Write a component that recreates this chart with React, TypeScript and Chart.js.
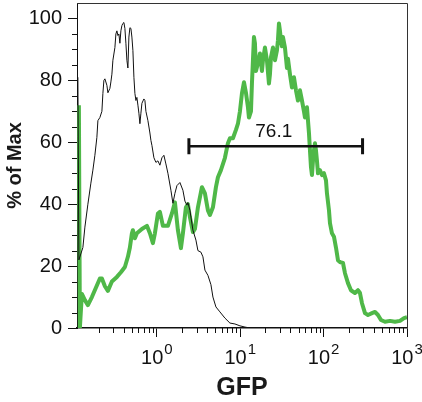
import React, { useEffect, useRef } from 'react';
import { Chart, registerables } from 'chart.js';

Chart.register(...registerables);

const FONT = '"Liberation Sans", Arial, Helvetica, sans-serif';

// Unstained control histogram (black thin line): GFP intensity / % of Max
const controlX = [
  0.1127, 0.1159, 0.1294, 0.1368, 0.1486, 0.1614, 0.1706, 0.1803, 0.1905, 0.1959,
  0.207, 0.2188, 0.2249, 0.2312, 0.2377, 0.2512, 0.2582, 0.2729, 0.2805, 0.2884,
  0.2965, 0.3133, 0.3221, 0.3311, 0.3404, 0.3499, 0.3597, 0.3698, 0.3802, 0.3908,
  0.4018, 0.413, 0.4246, 0.4365, 0.4487, 0.4613, 0.4742, 0.4875, 0.5012, 0.5152,
  0.5297, 0.5445, 0.5598, 0.5754, 0.5916, 0.6081, 0.6252, 0.6427, 0.6607, 0.6982,
  0.7178, 0.7379, 0.7798, 0.8241, 0.8472, 0.871, 0.9204, 0.9727, 1.028, 1.086,
  1.148, 1.213, 1.282, 1.355, 1.472, 1.556, 1.644, 1.738, 1.888, 2.051,
  2.168, 2.291, 2.355, 2.489, 2.704, 2.938, 3.105, 3.373, 3.565, 3.767,
  4.093, 4.446, 4.699, 5.105, 5.702, 6.546, 7.516, 8.63, 9.908, 11.38, 13.06,
];
const controlY = [
  81, 22, 26, 32.6, 40, 46.8, 51, 55.8, 61.6, 67,
  68, 70, 75.8, 80, 80.5, 78.4, 76, 77.4, 79.5, 82,
  86.5, 90.6, 95, 96, 94.5, 95, 92, 96, 97.7, 98.4,
  98.7, 96.8, 92, 86.5, 84, 94, 97, 96.8, 94, 89.7,
  81, 75.8, 73.5, 74.5, 72, 69.4, 66, 69.4, 72.6, 74,
  73.5, 70, 67, 63, 60.6, 59, 55, 53.5, 54, 52.6,
  55, 55.8, 53, 50, 44.5, 40.3, 43.5, 46, 47, 44.5,
  41, 39.7, 40.5, 38, 31.6, 28.4, 25, 24.5, 23, 18.7,
  17, 14, 10, 6.8, 5.2, 3.2, 1.6, 1.3, 0.7, 0.3, 0,
];

// GFP sample histogram (green thick line)
const gfpX = [
  0.1159, 0.1191, 0.1259, 0.1368, 0.1486, 0.166, 0.1854, 0.207, 0.2188, 0.2377,
  0.2582, 0.2884, 0.3311, 0.3698, 0.413, 0.4487, 0.4742, 0.5012, 0.5152, 0.5445,
  0.5754, 0.6607, 0.7586, 0.8241, 0.8954, 0.9462, 1.028, 1.086, 1.18, 1.355,
  1.432, 1.514, 1.644, 1.786, 1.941, 2.051, 2.228, 2.355, 2.489, 2.704,
  2.858, 3.105, 3.467, 3.767, 4.093, 4.325, 4.699, 5.105, 5.395, 5.861,
  6.546, 7.112, 7.516, 8.166, 8.872, 9.376, 9.908, 10.47, 11.07, 11.7,
  12.36, 12.71, 13.43, 13.8, 14.19, 14.59, 15.0, 15.42, 16.29, 17.22,
  18.2, 18.71, 19.77, 20.89, 22.08, 22.7, 23.33, 24.66, 26.06, 27.54,
  28.31, 29.11, 29.92, 30.76, 31.62, 32.51, 34.36, 36.31, 37.33, 39.45,
  41.69, 44.06, 46.56, 49.2, 52.0, 54.95, 58.07, 59.7, 63.1, 66.68,
  68.55, 70.47, 72.44, 74.47, 76.56, 78.7, 80.91, 83.18, 85.51, 90.36,
  95.5, 100.9, 106.7, 109.6, 115.9, 119.1, 125.9, 133.0, 140.6, 148.6,
  157.0, 170.6, 180.3, 195.9, 212.8, 237.7, 258.2, 272.9, 288.4, 313.3,
  340.4, 380.2, 413.0, 448.7, 487.5, 544.5, 625.2, 717.8, 824.1, 920.4,
  1000,
];
const gfpY = [
  72, 0, 11, 9, 7.4, 10, 13, 16, 16, 13.5,
  12, 15, 16.5, 18, 19.7, 23, 26, 30.6, 31.6, 29,
  30.6, 32, 33, 30.6, 27.4, 30.6, 37, 37.5, 33, 33,
  35, 37, 40.6, 31.6, 25.8, 30.6, 39, 40, 35.8, 31,
  32, 39, 45.5, 43.5, 38, 36.5, 39, 45.5, 48.7, 51,
  55, 59.7, 61.3, 61.3, 64, 66, 70, 75.8, 79.4, 76,
  71.3, 68, 70, 79, 86.5, 94, 92, 83, 85.5, 88.7,
  83, 86.5, 90.6, 86.5, 79, 82, 87.4, 90.6, 86.5, 89.7,
  93, 98.4, 96, 93, 91, 94, 90.6, 84, 87, 82,
  77.7, 81, 76.8, 73.5, 76.8, 73.5, 70, 68, 71.3, 63,
  57.4, 52, 49.4, 54, 57.4, 59.7, 57.4, 54, 50, 51,
  49.4, 50, 47.7, 43.5, 38, 33.9, 30.6, 29.5, 26, 21.9,
  21.3, 21, 17.7, 14.5, 12.2, 11.3, 12.2, 11.3, 8, 4.8,
  4.2, 4.8, 5.2, 4.2, 2.6, 2, 2.3, 2, 2.3, 3.2,
  3.5,
];

// Axes
const yMajorTicks = [0, 20, 40, 60, 80, 100];
const yMinorTicks = [5, 10, 15, 25, 30, 35, 45, 50, 55, 65, 70, 75, 85, 90, 95];
const xMajorTicks = [1, 10, 100, 1000];
const xMajorExponents = ['0', '1', '2', '3'];
const xMinorTicks = [
  0.2, 0.3, 0.4, 0.5, 0.6, 0.7, 0.8, 0.9,
  2, 3, 4, 5, 6, 7, 8, 9,
  20, 30, 40, 50, 60, 70, 80, 90,
  200, 300, 400, 500, 600, 700, 800, 900,
];

// Gate annotation
const gateStart = 2.42;
const gateEnd = 293;
const gateLevel = 58.7;
const gateLabel = '76.1';

const INK = '#111111';
const GREEN = '#4fb848';

const decorPlugin = {
  id: 'facsDecor',
  afterDatasetsDraw(chart: any) {
    const { ctx, scales } = chart;
    const x = scales.x;
    const y = scales.y;
    const x1 = x.getPixelForValue(gateStart);
    const x2 = x.getPixelForValue(gateEnd);
    const yy = y.getPixelForValue(gateLevel);
    ctx.save();
    ctx.strokeStyle = INK;
    ctx.lineWidth = 2.5;
    ctx.beginPath();
    ctx.moveTo(x1, yy);
    ctx.lineTo(x2, yy);
    ctx.stroke();
    ctx.lineWidth = 3;
    ctx.beginPath();
    ctx.moveTo(x1, yy - 8);
    ctx.lineTo(x1, yy + 8);
    ctx.moveTo(x2, yy - 8);
    ctx.lineTo(x2, yy + 8);
    ctx.stroke();
    ctx.fillStyle = INK;
    ctx.font = `19px ${FONT}`;
    ctx.textAlign = 'center';
    ctx.textBaseline = 'alphabetic';
    ctx.fillText(gateLabel, (x1 + x2) / 2 - 2, yy - 9);
    ctx.restore();
  },
  afterDraw(chart: any) {
    const { ctx, scales, chartArea } = chart;
    const x = scales.x;
    const y = scales.y;
    ctx.save();
    // frame top & right
    ctx.strokeStyle = '#333333';
    ctx.lineWidth = 1;
    ctx.beginPath();
    ctx.moveTo(chartArea.left, chartArea.top + 0.5);
    ctx.lineTo(chartArea.right + 0.5, chartArea.top + 0.5);
    ctx.lineTo(chartArea.right + 0.5, chartArea.bottom);
    ctx.stroke();
    // minor ticks
    ctx.strokeStyle = INK;
    ctx.beginPath();
    xMinorTicks.forEach((v) => {
      const px = Math.round(x.getPixelForValue(v)) + 0.5;
      ctx.moveTo(px, chartArea.bottom);
      ctx.lineTo(px, chartArea.bottom + 5);
    });
    yMinorTicks.forEach((v) => {
      const py = Math.round(y.getPixelForValue(v)) + 0.5;
      ctx.moveTo(chartArea.left, py);
      ctx.lineTo(chartArea.left - 5, py);
    });
    ctx.stroke();
    // x labels 10^n
    ctx.fillStyle = INK;
    ctx.textAlign = 'left';
    ctx.textBaseline = 'alphabetic';
    xMajorTicks.forEach((v, i) => {
      const px = x.getPixelForValue(v);
      const exp = xMajorExponents[i];
      ctx.font = `20px ${FONT}`;
      const bw = ctx.measureText('10').width;
      ctx.font = `15px ${FONT}`;
      const ew = ctx.measureText(exp).width;
      const start = px - (bw + 1 + ew) / 2;
      ctx.font = `20px ${FONT}`;
      ctx.fillText('10', start, chartArea.bottom + 36);
      ctx.font = `15px ${FONT}`;
      ctx.fillText(exp, start + bw + 1, chartArea.bottom + 26);
    });
    ctx.restore();
  },
};

export default function App() {
  const ref = useRef<HTMLCanvasElement | null>(null);

  useEffect(() => {
    if (!ref.current) return;
    const chart = new Chart(ref.current, {
      type: 'line',
      data: {
        datasets: [
          {
            label: 'Control',
            data: controlX.map((v, i) => ({ x: v, y: controlY[i] })),
            borderColor: INK,
            borderWidth: 1,
            pointRadius: 0,
            tension: 0,
            fill: false,
          },
          {
            label: 'GFP',
            data: gfpX.map((v, i) => ({ x: v, y: gfpY[i] })),
            borderColor: GREEN,
            borderWidth: 4,
            borderJoinStyle: 'round',
            pointRadius: 0,
            tension: 0,
            fill: false,
          },
        ],
      },
      options: {
        animation: false,
        responsive: false,
        maintainAspectRatio: false,
        layout: { padding: { top: 3, right: 15, left: 0, bottom: 0 } },
        plugins: {
          legend: { display: false },
          tooltip: { enabled: false },
        },
        scales: {
          x: {
            type: 'logarithmic',
            min: 0.11,
            max: 1000,
            afterBuildTicks: (s: any) => {
              s.ticks = xMajorTicks.map((v) => ({ value: v }));
            },
            afterFit: (s: any) => {
              s.height = 74;
              s.paddingLeft = 0;
              s.paddingRight = 0;
            },
            ticks: { display: false },
            grid: {
              drawOnChartArea: false,
              drawTicks: true,
              tickLength: 9,
              tickColor: INK,
              tickWidth: 1,
            },
            border: { display: true, color: INK, width: 1.5 },
            title: {
              display: true,
              text: 'GFP',
              color: '#1a1a1a',
              font: { family: FONT, size: 25, weight: 'bold', lineHeight: 1.1 },
              padding: { top: 0, bottom: 0 },
            },
          },
          y: {
            type: 'linear',
            min: 0,
            max: 105,
            afterBuildTicks: (s: any) => {
              s.ticks = yMajorTicks.map((v) => ({ value: v }));
            },
            afterFit: (s: any) => {
              s.width = 77;
              s.paddingTop = 0;
              s.paddingBottom = 0;
            },
            ticks: {
              color: INK,
              font: { family: FONT, size: 20 },
              padding: 6,
            },
            grid: {
              drawOnChartArea: false,
              drawTicks: true,
              tickLength: 9,
              tickColor: INK,
              tickWidth: 1,
            },
            border: { display: true, color: INK, width: 1 },
            title: {
              display: true,
              text: '% of Max',
              color: '#1a1a1a',
              font: { family: FONT, size: 20, weight: 'bold' },
              padding: { top: 3, bottom: 0 },
            },
          },
        },
      },
      plugins: [decorPlugin],
    } as any);
    return () => chart.destroy();
  }, []);

  return (
    <div style={{ position: 'fixed', left: 0, top: 0, width: 422, height: 402, background: '#fff' }}>
      <canvas ref={ref} width={422} height={402} style={{ display: 'block', width: 422, height: 402 }} />
    </div>
  );
}
